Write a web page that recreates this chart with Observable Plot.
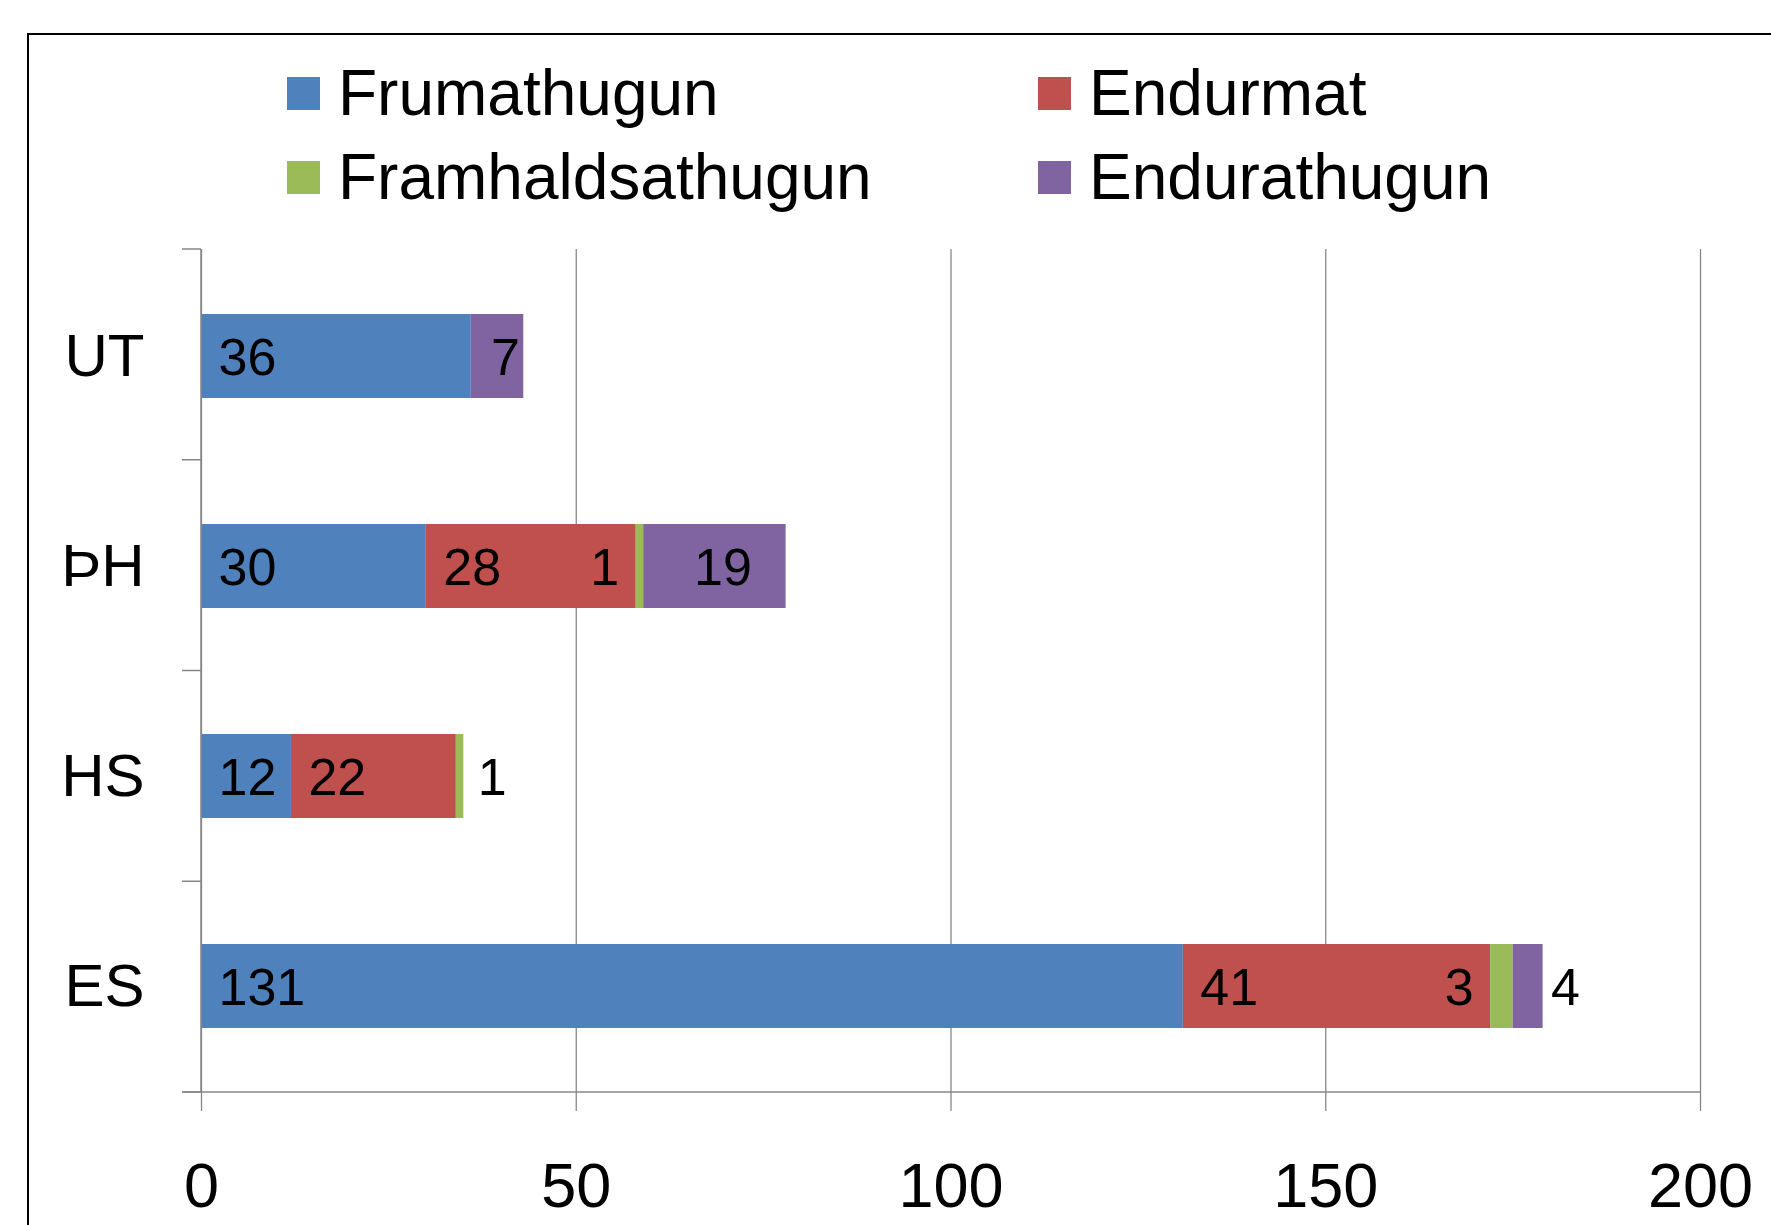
<!DOCTYPE html>
<html>
<head>
<meta charset="utf-8">
<script src="https://cdn.jsdelivr.net/npm/d3@7"></script>
<script src="https://cdn.jsdelivr.net/npm/@observablehq/plot@0.6"></script>
<style>
  html, body { margin: 0; padding: 0; background: #fff; }
  #wrap { position: relative; width: 1771px; height: 1225px; overflow: hidden; font-family: "Liberation Sans", Arial, sans-serif; }
  #frame { position: absolute; left: 27px; top: 33px; width: 1800px; height: 1300px; border-left: 2px solid #000; border-top: 2px solid #000; box-sizing: border-box; }
  #legend { position: relative; height: 220px; }
  .item { position: absolute; display: flex; align-items: center; height: 84px; font-size: 64px; line-height: 84px; color: #000; white-space: nowrap; }
  .sw { width: 33px; height: 33px; margin-right: 18px; flex: none; }
  #chart { position: relative; }
</style>
</head>
<body>
<div id="wrap">
  <div id="frame"></div>
  <div id="legend"></div>
  <div id="chart"></div>
</div>
<script>
// ---- data ----
const categories = ["UT", "ÞH", "HS", "ES"];
const series = ["Frumathugun", "Endurmat", "Framhaldsathugun", "Endurathugun"];
const colors = ["#4F81BD", "#C0504D", "#9BBB59", "#8064A2"];
const frumathugun      = [36, 30, 12, 131];
const endurmat         = [0, 28, 22, 41];
const framhaldsathugun = [0, 1, 1, 3];
const endurathugun     = [7, 19, 0, 4];
const xTicks = [0, 50, 100, 150, 200];

// ---- table built from the arrays ----
const seriesValues = [frumathugun, endurmat, framhaldsathugun, endurathugun];
const rows = [];
categories.forEach((cat, ci) => {
  let acc = 0;
  series.forEach((s, si) => {
    const v = seriesValues[si][ci];
    const next = si + 1 < series.length ? seriesValues[si + 1][ci] : 0;
    if (v > 0) rows.push({cat, series: s, si, value: v, x1: acc, x2: acc + v, mid: acc + v / 2, next});
    acc += v;
  });
});

// ---- legend (HTML) ----
const legend = document.getElementById("legend");
const legendCols = [287, 1038];
series.forEach((s, i) => {
  const item = document.createElement("div");
  item.className = "item";
  item.style.left = legendCols[i % 2] + "px";
  item.style.top = (51 + Math.floor(i / 2) * 84) + "px";
  const sw = document.createElement("span");
  sw.className = "sw";
  sw.style.background = colors[i];
  const t = document.createElement("span");
  t.textContent = s;
  item.appendChild(sw);
  item.appendChild(t);
  legend.appendChild(item);
});

// ---- chart ----
const GRID = "#878787";
const font = "'Liberation Sans', Arial, sans-serif";

function categoryFrame(index, scales, values, dim) {
  const y = scales.y;
  const g = d3.create("svg:g").attr("stroke", GRID).attr("stroke-width", 1.5).attr("fill", "none");
  const top = dim.marginTop, bottom = dim.height - dim.marginBottom;
  const n = categories.length;
  const step = (bottom - top) / n;
  const x0 = dim.marginLeft;
  for (let i = 0; i <= n; i++) {
    const b = top + i * step;
    g.append("line").attr("x1", x0 - 19).attr("x2", x0).attr("y1", b).attr("y2", b);
  }
  g.append("line").attr("x1", x0 - 19).attr("x2", dim.width - dim.marginRight).attr("y1", bottom).attr("y2", bottom);
  g.append("line").attr("x1", x0).attr("x2", x0).attr("y1", top).attr("y2", bottom);
  return g.node();
}

const isStartLabel = d => d.si === 0 || d.si === 1;
const isGreenInside = d => d.si === 2 && d.next > 0;
const isGreenOutside = d => d.si === 2 && d.next === 0;
const isPurpleMid = d => d.si === 3 && d.value >= 5;
const isPurpleOutside = d => d.si === 3 && d.value < 5;

const chart = Plot.plot({
  width: 1771,
  height: 1005,
  marginLeft: 201,
  marginRight: 71,
  marginTop: 29,
  marginBottom: 133,
  style: {fontFamily: font, color: "black", background: "transparent", overflow: "visible"},
  x: {domain: [0, 200], label: null},
  y: {domain: categories, paddingInner: 0.6, paddingOuter: 0.3, label: null},
  color: {domain: series, range: colors},
  marks: [
    Plot.gridX(xTicks, {stroke: GRID, strokeOpacity: 1, strokeWidth: 1.3}),
    Plot.barX(rows, {x1: "x1", x2: "x2", y: "cat", fill: "series"}),
    Plot.text(rows.filter(isStartLabel), {x: "x1", y: "cat", text: d => String(d.value), textAnchor: "start", dx: 17, dy: 2, fontSize: 52, fill: "black"}),
    Plot.text(rows.filter(isGreenInside), {x: "x1", y: "cat", text: d => String(d.value), textAnchor: "end", dx: -17, dy: 2, fontSize: 52, fill: "black"}),
    Plot.text(rows.filter(isGreenOutside), {x: "x2", y: "cat", text: d => String(d.value), textAnchor: "start", dx: 14, dy: 2, fontSize: 52, fill: "black"}),
    Plot.text(rows.filter(isPurpleMid), {x: "mid", y: "cat", text: d => String(d.value), textAnchor: "middle", dx: 8, dy: 2, fontSize: 52, fill: "black"}),
    Plot.text(rows.filter(isPurpleOutside), {x: "x2", y: "cat", text: d => String(d.value), textAnchor: "start", dx: 8, dy: 2, fontSize: 52, fill: "black"}),
    Plot.axisX({ticks: xTicks, tickSize: 19, tickPadding: 51, fontSize: 63, stroke: GRID, strokeWidth: 1.3, label: null, tickFormat: d => String(d)}),
    Plot.axisY({tickSize: 0, tickPadding: 57, fontSize: 60, label: null}),
    categoryFrame
  ]
});
document.getElementById("chart").appendChild(chart);
</script>
</body>
</html>
